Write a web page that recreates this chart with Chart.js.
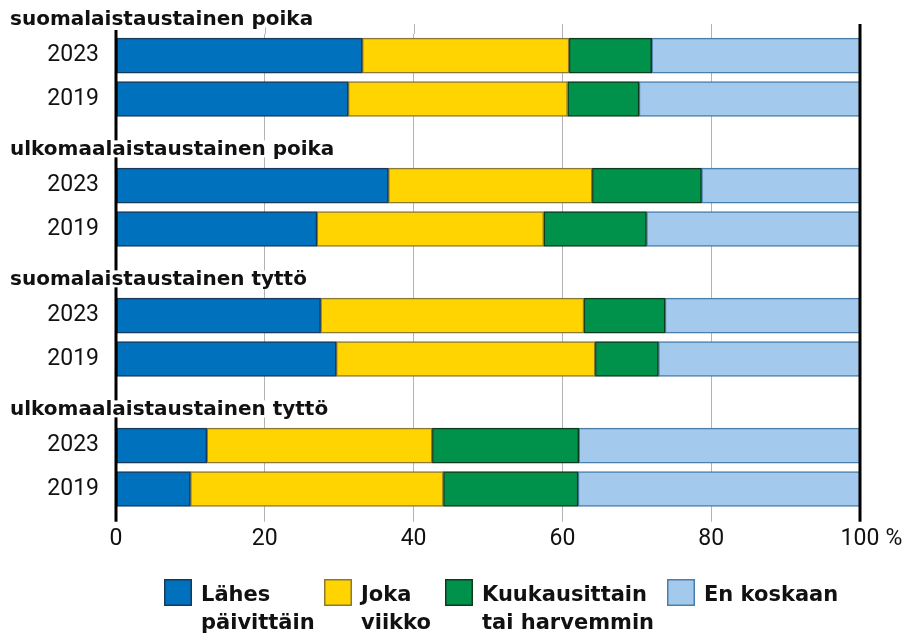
<!DOCTYPE html>
<html>
<head>
    <title>Liikunta vapaa-ajalla</title>
    <meta charset="utf-8">
    <script src="https://cdn.jsdelivr.net/npm/chart.js@4.4.0/dist/chart.umd.min.js"></script>
    <style>
        body {
            margin: 0;
            background: #fff;
        }
        .chart-container {
            position: relative;
            width: 912px;
            height: 637px;
        }
    </style>
</head>
<body>
    <div class="chart-container">
        <canvas id="chart"></canvas>
    </div>

    <script>
        // Ryhmät ja vuodet
        const ryhmat = ['suomalaistaustainen poika', 'ulkomaalaistaustainen poika',
                        'suomalaistaustainen tyttö', 'ulkomaalaistaustainen tyttö'];
        const vuodet = ['2023', '2019'];

        // Osuudet (%): ryhmä 1 2023, ryhmä 1 2019, ryhmä 2 2023, ...
        const lahesPaivittain = [33.1, 31.2, 36.6, 27.0, 27.5, 29.6, 12.2, 10.0];
        const jokaViikko      = [27.8, 29.5, 27.4, 30.5, 35.4, 34.8, 30.3, 34.0];
        const kuukausittain   = [11.1,  9.6, 14.7, 13.8, 10.9,  8.5, 19.7, 18.1];
        const enKoskaan       = [28.0, 29.7, 21.3, 28.7, 26.2, 27.1, 37.8, 37.9];

        const sarjat = [['Lähes', 'päivittäin'], ['Joka', 'viikko'],
                        ['Kuukausittain', 'tai harvemmin'], ['En koskaan']];
        const xTicks = [0, 20, 40, 60, 80, 100];

        const arvot = [lahesPaivittain, jokaViikko, kuukausittain, enKoskaan];
        const varit = ['#0071bc', '#ffd400', '#00914a', '#a3c9ec'];
        const reunat = ['#173a5c', '#8d7a30', '#0d3b1f', '#4a7eab'];

        // Rivit: otsikkorivit tyhjinä (ensimmäinen otsikko piirretään yläpuolelle)
        const rivit = [];
        const riviIndeksi = [];
        ryhmat.forEach((g, gi) => {
            if (gi > 0) rivit.push('');
            vuodet.forEach(v => { riviIndeksi.push(rivit.length); rivit.push(v); });
        });
        function rivita(arr) {
            const out = rivit.map(() => null);
            arr.forEach((v, i) => { out[riviIndeksi[i]] = v; });
            return out;
        }

        const GRID = '#b3b3b3';
        const TICK_FONT = { family: 'Roboto', size: 23 };
        const X_PAD = 4;
        const legendX = [164, 324, 445, 667];

        const extras = {
            id: 'extras',
            beforeDatasetsDraw(chart) {
                // ruudukko jatkuu piirtoalueen yläpuolelle
                const { ctx, chartArea, scales: { x } } = chart;
                ctx.save();
                ctx.strokeStyle = GRID;
                ctx.lineWidth = 1;
                xTicks.forEach(v => {
                    if (v === 0 || v === 100) return;
                    const px = Math.round(x.getPixelForValue(v)) + 0.5;
                    ctx.beginPath();
                    ctx.moveTo(px, 24);
                    ctx.lineTo(px, chartArea.top);
                    ctx.stroke();
                });
                ctx.restore();
            },
            afterDatasetsDraw(chart) {
                const { ctx, chartArea, scales: { x } } = chart;
                const bottom = chartArea.bottom + 11;
                ctx.save();
                ctx.strokeStyle = '#000';
                ctx.lineWidth = 3;
                [[0, 30], [100, 24]].forEach(([v, top]) => {
                    const px = x.getPixelForValue(v);
                    ctx.beginPath();
                    ctx.moveTo(px, top);
                    ctx.lineTo(px, bottom);
                    ctx.stroke();
                });
                ctx.restore();
            },
            afterDraw(chart) {
                const { ctx, scales: { x, y } } = chart;
                ctx.save();

                // ryhmien otsikot
                ctx.font = 'bold 20px "DejaVu Sans"';
                ctx.textBaseline = 'alphabetic';
                ctx.textAlign = 'left';
                ryhmat.forEach((g, gi) => {
                    const base = y.getPixelForValue(gi * 3 - 1) + 13;
                    const w = ctx.measureText(g).width;
                    ctx.fillStyle = '#fff';
                    ctx.fillRect(8, base - 15, w + 6, 17);
                    ctx.fillStyle = '#111';
                    ctx.fillText(g, 10, base);
                });

                // prosenttimerkki viimeisen tikin perään
                ctx.font = TICK_FONT.size + 'px ' + TICK_FONT.family;
                ctx.textBaseline = 'middle';
                const w100 = ctx.measureText('100').width;
                ctx.fillStyle = '#111';
                ctx.fillText('%', x.getPixelForValue(100) + w100 / 2 + 6,
                             x.top + 11 + X_PAD + TICK_FONT.size * 1.2 / 2);

                // selite
                ctx.textBaseline = 'alphabetic';
                sarjat.forEach((s, i) => {
                    const bx = legendX[i];
                    ctx.fillStyle = varit[i];
                    ctx.fillRect(bx, 579, 28, 27);
                    ctx.strokeStyle = reunat[i];
                    ctx.lineWidth = 1.5;
                    ctx.strokeRect(bx + 0.75, 579.75, 26.5, 25.5);
                    ctx.fillStyle = '#111';
                    ctx.font = 'bold 21px "DejaVu Sans"';
                    s.forEach((line, li) => ctx.fillText(line, bx + 37, 601 + li * 28));
                });
                ctx.restore();
            }
        };

        const ctx = document.getElementById('chart').getContext('2d');
        const chart = new Chart(ctx, {
            type: 'bar',
            data: {
                labels: rivit,
                datasets: sarjat.map((s, i) => ({
                    label: s.join(' '),
                    data: rivita(arvot[i]),
                    backgroundColor: varit[i],
                    borderColor: reunat[i],
                    borderWidth: 1.5,
                    borderSkipped: false,
                    barThickness: 35
                }))
            },
            options: {
                indexAxis: 'y',
                responsive: true,
                maintainAspectRatio: false,
                animation: false,
                layout: { padding: { top: 34, right: 52, left: 0, bottom: 0 } },
                plugins: {
                    legend: { display: false },
                    tooltip: { enabled: false }
                },
                scales: {
                    x: {
                        stacked: true,
                        min: 0,
                        max: 100,
                        afterBuildTicks: s => { s.ticks = xTicks.map(v => ({ value: v })); },
                        grid: {
                            color: c => (c.tick && (c.tick.value === 0 || c.tick.value === 100)) ? 'rgba(0,0,0,0)' : GRID,
                            lineWidth: 1,
                            tickLength: 11
                        },
                        border: { display: false },
                        ticks: {
                            color: '#111',
                            font: TICK_FONT,
                            padding: X_PAD,
                            maxRotation: 0,
                            autoSkip: false
                        },
                        afterFit: s => { s.height = 126.3; }
                    },
                    y: {
                        stacked: true,
                        grid: { display: false, drawTicks: false },
                        border: { display: false },
                        ticks: {
                            color: '#111',
                            font: TICK_FONT,
                            padding: 17,
                            autoSkip: false
                        },
                        afterFit: s => { s.width = 116; }
                    }
                }
            },
            plugins: [extras]
        });
    </script>
</body>
</html>
